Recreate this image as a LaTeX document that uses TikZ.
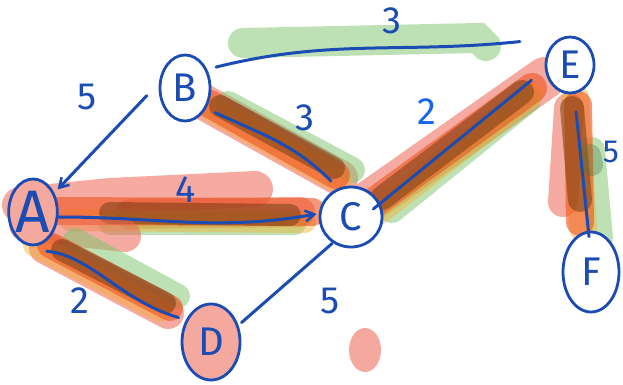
\documentclass[tikz,border=0pt]{standalone}
\usepackage{fontspec}
\setmainfont{Fira Sans}
\usetikzlibrary{shapes.geometric,arrows.meta}
\definecolor{ink}{HTML}{1A4CB4}
\definecolor{brightink}{HTML}{1565EE}
\definecolor{salmon}{HTML}{EC6555}
\definecolor{hlorange}{HTML}{EE5420}
\definecolor{hlgreen}{HTML}{7CC46C}
\definecolor{hlyellow}{HTML}{F5B030}
\definecolor{hlbrown}{HTML}{6B3A10}
\definecolor{dotfill}{HTML}{F5A89E}
\tikzset{
  vert/.style={ellipse, draw=ink, line width=2.8pt, text=ink, inner sep=0pt,
    font=\fontsize{40}{40}\selectfont},
  inkline/.style={draw=ink, line width=3pt, line cap=round},
  wlabel/.style={text=ink, font=\fontsize{38}{38}\selectfont, inner sep=0pt},
  hl/.style={line cap=round, draw opacity=#1},
  hlsal/.style={hl=0.55, draw=salmon},
  hlorg/.style={hl=0.6, draw=hlorange},
  hlgrn/.style={hl=0.5, draw=hlgreen},
  hlylw/.style={hl=0.45, draw=hlyellow},
  hlbrn/.style={hl=0.5, draw=hlbrown},
  tipA/.style={-{Straight Barb[length=9pt,width=11pt,line width=2.6pt]}},
}
\begin{document}
\begin{tikzpicture}[x=1pt,y=-1pt]
\useasboundingbox (0,0) rectangle (623,385);

% ---- highlighter strokes ----
% B -- E (green only)
\draw[hlgrn, line width=30pt] (243,43) -- (478,38) -- (486,46);
% B -- C
\draw[hlsal, line width=36pt] (200,100) -- (340,178);
\draw[hlgrn, line width=26pt] (228,104) -- (352,170);
\draw[hlylw, line width=26pt] (210,108) -- (338,180);
\draw[hlorg, line width=28pt] (210,104) -- (336,175);
\draw[hlbrn, line width=22pt] (220,106) -- (334,168);
% A -- C
\draw[hlsal, line width=36pt] (20,205) -- (110,196) -- (255,189);
\draw[hlsal, line width=30pt] (130,214) -- (300,212);
\draw[hlgrn, line width=22pt] (110,224) -- (295,224);
\draw[hlylw, line width=22pt] (70,220) -- (305,222);
\draw[hlorg, line width=28pt] (45,211) -- (312,212);
\draw[hlbrn, line width=22pt] (110,213) -- (290,215);
% A -- D
\draw[hlsal, line width=32pt] (25,225) -- (125,236);
\draw[hlsal, line width=32pt] (45,248) -- (168,313);
\draw[hlgrn, line width=24pt] (75,240) -- (178,296);
\draw[hlylw, line width=24pt] (35,245) -- (160,310);
\draw[hlorg, line width=26pt] (50,245) -- (170,308);
\draw[hlbrn, line width=22pt] (62,250) -- (165,303);
% C -- E
\draw[hlsal, line width=42pt] (360,208) -- (545,78);
\draw[hlgrn, line width=26pt] (392,210) -- (528,100);
\draw[hlylw, line width=26pt] (378,212) -- (530,95);
\draw[hlorg, line width=30pt] (372,204) -- (532,88);
\draw[hlbrn, line width=24pt] (382,198) -- (522,92);
% E -- F
\draw[hlsal, line width=30pt] (569,108) -- (563,202);
\draw[hlgrn, line width=26pt] (592,150) -- (600,238);
\draw[hlylw, line width=28pt] (575,98) -- (583,228);
\draw[hlorg, line width=28pt] (578,105) -- (580,222);
\draw[hlbrn, line width=24pt] (572,108) -- (580,200);
\draw[hlbrn, line width=22pt, draw=hlgreen!60!black, draw opacity=0.35] (590,155) -- (592,165);

% stray highlighter dot
\fill[dotfill] (365,350) ellipse [x radius=16, y radius=22];

% ---- vertices ----
\node[vert, fill=dotfill, minimum width=40pt, minimum height=66pt,
      font=\fontsize{60}{60}\selectfont] (A) at (33,212) {A};
\node[vert, fill=white, minimum width=50pt, minimum height=66pt] (B) at (185,88) {B};
\node[vert, fill=white, minimum width=62pt, minimum height=60pt] (C) at (351,217) {C};
\node[vert, fill=dotfill, minimum width=58pt, minimum height=76pt] (D) at (211,342) {D};
\node[vert, fill=white, minimum width=48pt, minimum height=56pt] (E) at (570,65) {E};
\node[vert, fill=white, minimum width=56pt, minimum height=80pt] (F) at (591,272) {F};

% ---- edges ----
\draw[inkline, tipA] ([shift={(-12,3)}]B.190) -- ([shift={(4,-2)}]A.45);
\draw[inkline, tipA] ([shift={(0,5)}]A.east) to[out=0, in=190] ([shift={(-2,-3)}]C.west);
\draw[inkline] ([shift={(-2,12)}]A.-60) .. controls (90,255) and (120,300) .. ([shift={(-7,-3)}]D.140);
\draw[inkline] ([shift={(-3,-1)}]C.-120) -- ([shift={(5,2)}]D.40);
\draw[inkline] ([shift={(7,-7)}]B.30) to[out=14, in=186] ([shift={(-25,-19)}]E.170);
\draw[inkline] ([shift={(8,6)}]B.-40) to[out=-25, in=135] ([shift={(-20,-36)}]C.center);
\draw[inkline] ([shift={(-8,3)}]C.20) -- ([shift={(-18,-2)}]E.220);
\draw[inkline] ([shift={(1,18)}]E.-80) -- ([shift={(-2,6)}]F.north);

% ---- weights ----
\node[wlabel] (wab) at (87,97) {5};
\node[wlabel] (wbe) at (392,21) {3};
\node[wlabel] (wbc) at (305,118) {3};
\node[wlabel] (wac) at (186,190) {4};
\node[wlabel, text=brightink] (wce) at (427,112) {2};
\node[wlabel, font=\fontsize{32}{32}\selectfont] (wef) at (611,152) {5};
\node[wlabel] (wad) at (80,301) {2};
\node[wlabel] (wcd) at (330,301) {5};
\end{tikzpicture}
\end{document}
